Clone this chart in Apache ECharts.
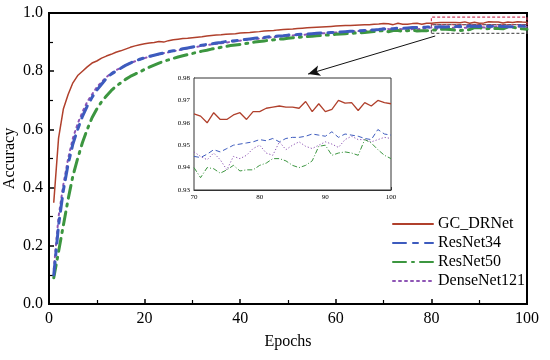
<!DOCTYPE html>
<html><head><meta charset="utf-8">
<script src="https://cdn.jsdelivr.net/npm/echarts@6/dist/echarts.min.js"></script>
<style>html,body{margin:0;padding:0;background:#fff}#c{width:550px;height:360px}</style>
</head><body><div id="c"></div>
<script>
const seriesNames = ['GC_DRNet','ResNet34','ResNet50','DenseNet121'];
const gcDRNet = [0.35,0.57,0.67,0.72,0.76,0.785,0.80,0.815,0.828,0.835,
0.845,0.852,0.858,0.865,0.870,0.876,0.882,0.887,0.891,0.894,
0.897,0.899,0.902,0.900,0.905,0.908,0.910,0.912,0.913,0.915,
0.917,0.918,0.921,0.923,0.924,0.925,0.927,0.928,0.929,0.931,
0.932,0.933,0.935,0.936,0.938,0.939,0.940,0.942,0.943,0.944,
0.945,0.947,0.948,0.949,0.950,0.951,0.952,0.953,0.954,0.955,
0.956,0.957,0.957,0.958,0.959,0.960,0.960,0.961,0.962,
0.964,0.963,0.960,0.9645,0.9615,0.9615,0.9635,0.9645,0.9615,0.965,0.965,0.9665,0.967,0.9675,0.967,0.967,0.9665,0.9695,0.965,0.9685,0.965,0.966,0.970,0.9688,0.969,0.9655,0.969,0.9675,0.970,0.969,0.9685];
const resNet34 = [0.10,0.27,0.39,0.48,0.55,0.60,0.645,0.68,0.71,0.735,
0.755,0.775,0.79,0.80,0.81,0.82,0.828,0.835,0.841,0.846,
0.851,0.855,0.859,0.863,0.867,0.870,0.873,0.877,0.880,0.883,
0.886,0.889,0.892,0.894,0.897,0.899,0.902,0.903,0.905,0.907,
0.909,0.911,0.913,0.915,0.916,0.918,0.919,0.921,0.922,0.924,
0.925,0.926,0.927,0.928,0.929,0.930,0.931,0.932,0.933,0.934,
0.935,0.936,0.937,0.938,0.939,0.940,0.941,0.942,0.943,
0.945,0.9445,0.946,0.948,0.947,0.9485,0.950,0.9505,0.951,0.9515,0.9525,0.952,0.953,0.9515,0.953,0.9535,0.9535,0.954,0.955,0.9545,0.954,0.956,0.9535,0.955,0.9545,0.954,0.953,0.9525,0.957,0.955,0.9545];
const resNet50 = [0.09,0.18,0.27,0.36,0.44,0.50,0.555,0.60,0.64,0.67,
0.695,0.715,0.733,0.748,0.76,0.772,0.782,0.79,0.798,0.806,
0.814,0.821,0.828,0.834,0.839,0.844,0.849,0.853,0.857,0.861,
0.865,0.869,0.872,0.876,0.879,0.882,0.885,0.888,0.890,0.892,
0.895,0.897,0.900,0.902,0.904,0.906,0.908,0.910,0.911,0.913,
0.915,0.916,0.918,0.919,0.920,0.922,0.923,0.924,0.925,0.927,
0.928,0.929,0.930,0.931,0.932,0.933,0.935,0.936,0.938,
0.940,0.9355,0.940,0.9395,0.9375,0.939,0.941,0.9385,0.939,0.939,0.941,0.942,0.944,0.944,0.943,0.941,0.940,0.941,0.943,0.9495,0.950,0.9455,0.9465,0.947,0.9465,0.9455,0.9525,0.951,0.948,0.9455,0.944];
const denseNet121 = [0.12,0.30,0.41,0.50,0.57,0.62,0.66,0.695,0.72,0.745,
0.763,0.78,0.793,0.803,0.812,0.82,0.828,0.834,0.84,0.845,
0.85,0.854,0.858,0.862,0.865,0.869,0.872,0.875,0.879,0.882,
0.884,0.887,0.889,0.892,0.894,0.896,0.898,0.901,0.903,0.905,
0.907,0.909,0.911,0.912,0.914,0.916,0.917,0.919,0.92,0.921,
0.923,0.924,0.925,0.926,0.928,0.929,0.93,0.931,0.932,0.933,
0.934,0.935,0.936,0.937,0.938,0.939,0.94,0.941,0.942,
0.947,0.945,0.9435,0.9465,0.9435,0.939,0.945,0.944,0.9455,0.9485,0.950,0.9465,0.9455,0.9515,0.948,0.950,0.9515,0.9495,0.9485,0.950,0.9515,0.9505,0.949,0.9525,0.954,0.9525,0.9525,0.9515,0.9525,0.9535,0.953];
const firstEpoch = 1;
const insetStartEpoch = 70;
const zoomBoxTop = [[80,0.96],[100,0.986]];
const zoomBoxBottom = [[80,0.93],[100,0.96]];
const arrowFrom = [80.8,0.921];
const arrowTo = [54.2,0.79];

const colors = ['#B0402C','#3D5BBE','#3C9640','#8E55B5'];
const values = [gcDRNet,resNet34,resNet50,denseNet121];
const font = "'Liberation Serif','Times New Roman',serif";

function pairs(arr, from){
  const out=[];
  for(let i=from-firstEpoch;i<arr.length;i++) out.push([i+firstEpoch, arr[i]]);
  return out;
}
const mainStyles = [
  {width:1.5,type:'solid'},
  {width:3,type:[13,7,5,7]},
  {width:3,type:[13,6,2,6]},
  {width:2,type:[2,4]}
];
const insetStyles = [
  {width:1.3,type:'solid'},
  {width:1,type:[5,3]},
  {width:1,type:[5,2,1,2]},
  {width:1,type:[1.2,2]}
];
const series=[];
values.forEach((arr,k)=>{
  const s = {name:seriesNames[k], type:'line', xAxisIndex:0, yAxisIndex:0,
    data:pairs(arr,firstEpoch), showSymbol:false, symbol:'none', z: 5-k,
    lineStyle:Object.assign({color:colors[k], cap:'round'}, mainStyles[k]),
    itemStyle:{color:colors[k]}};
  if(k===0){
    s.markArea = {silent:true, data:[
      [{coord:zoomBoxTop[0], itemStyle:{color:'rgba(0,0,0,0)',borderColor:'#D04060',borderWidth:1.2,borderType:[3,2]}},{coord:zoomBoxTop[1]}],
      [{coord:zoomBoxBottom[0], itemStyle:{color:'rgba(0,0,0,0)',borderColor:'#606060',borderWidth:1.2,borderType:[3,2]}},{coord:zoomBoxBottom[1]}]
    ]};
    s.markLine = {silent:true, symbol:['none','arrow'], symbolSize:[8,12],
      lineStyle:{color:'#111',width:1,type:'solid'}, label:{show:false},
      data:[[{coord:arrowFrom},{coord:arrowTo}]]};
  }
  series.push(s);
});
values.forEach((arr,k)=>{
  series.push({name:seriesNames[k], type:'line', xAxisIndex:1, yAxisIndex:1,
    data:pairs(arr,insetStartEpoch), showSymbol:false, symbol:'none', z:10-k,
    lineStyle:Object.assign({color:colors[k]}, insetStyles[k]),
    itemStyle:{color:colors[k]}});
});

const chart = echarts.init(document.getElementById('c'),null,{renderer:'canvas'});
chart.setOption({
  animation:false,
  backgroundColor:'#fff',
  grid:[
    {left:49,top:13,right:23,bottom:56,show:true,borderColor:'#000',borderWidth:2,backgroundColor:'transparent',outerBoundsMode:'none',containLabel:false},
    {left:194,top:78,width:197,height:112,show:true,borderColor:'#333',borderWidth:1,backgroundColor:'#fff',z:3,outerBoundsMode:'none',containLabel:false}
  ],
  legend:{left:387,top:211,orient:'vertical',itemWidth:40,itemHeight:12,itemGap:3,
    data:seriesNames, itemStyle:{opacity:0},
    textStyle:{fontFamily:font,fontSize:16,color:'#000'}},
  xAxis:[
    {type:'value',gridIndex:0,min:0,max:100,interval:20,
     axisLine:{lineStyle:{color:'#000',width:2}},
     axisTick:{inside:true,length:5,lineStyle:{color:'#000',width:1.5}},
     minorTick:{show:true,splitNumber:2,length:4,lineStyle:{color:'#000',width:1.2}},
     splitLine:{show:false},
     axisLabel:{fontFamily:font,fontSize:16,color:'#000',margin:7},
     name:'Epochs',nameLocation:'middle',nameGap:30,nameMoveOverlap:false,
     nameTextStyle:{fontFamily:font,fontSize:16,color:'#000'}},
    {type:'value',gridIndex:1,min:70,max:100,interval:10,
     axisLine:{lineStyle:{color:'#333',width:1}},
     axisTick:{inside:true,length:3,lineStyle:{color:'#333'}},
     minorTick:{show:true,splitNumber:2,length:2,lineStyle:{color:'#333'}},
     splitLine:{show:false},
     axisLabel:{fontFamily:font,fontSize:7,color:'#000',margin:4}}
  ],
  yAxis:[
    {type:'value',gridIndex:0,min:0,max:1,interval:0.2,
     axisLine:{lineStyle:{color:'#000',width:2}},
     axisTick:{inside:true,length:5,lineStyle:{color:'#000',width:1.5}},
     minorTick:{show:true,splitNumber:2,length:4,lineStyle:{color:'#000',width:1.2}},
     splitLine:{show:false},
     axisLabel:{fontFamily:font,fontSize:16,color:'#000',margin:6,formatter:v=>v.toFixed(1)},
     name:'Accuracy',nameLocation:'middle',nameGap:31,nameRotate:90,nameMoveOverlap:false,
     nameTextStyle:{fontFamily:font,fontSize:16,color:'#000'}},
    {type:'value',gridIndex:1,min:0.93,max:0.98,interval:0.01,
     axisLine:{lineStyle:{color:'#333',width:1}},
     axisTick:{inside:true,length:3,lineStyle:{color:'#333'}},
     minorTick:{show:true,splitNumber:2,length:2,lineStyle:{color:'#333'}},
     splitLine:{show:false},
     axisLabel:{fontFamily:font,fontSize:7,color:'#000',margin:4,formatter:v=>v.toFixed(2)}}
  ],
  series:series
});
</script></body></html>
